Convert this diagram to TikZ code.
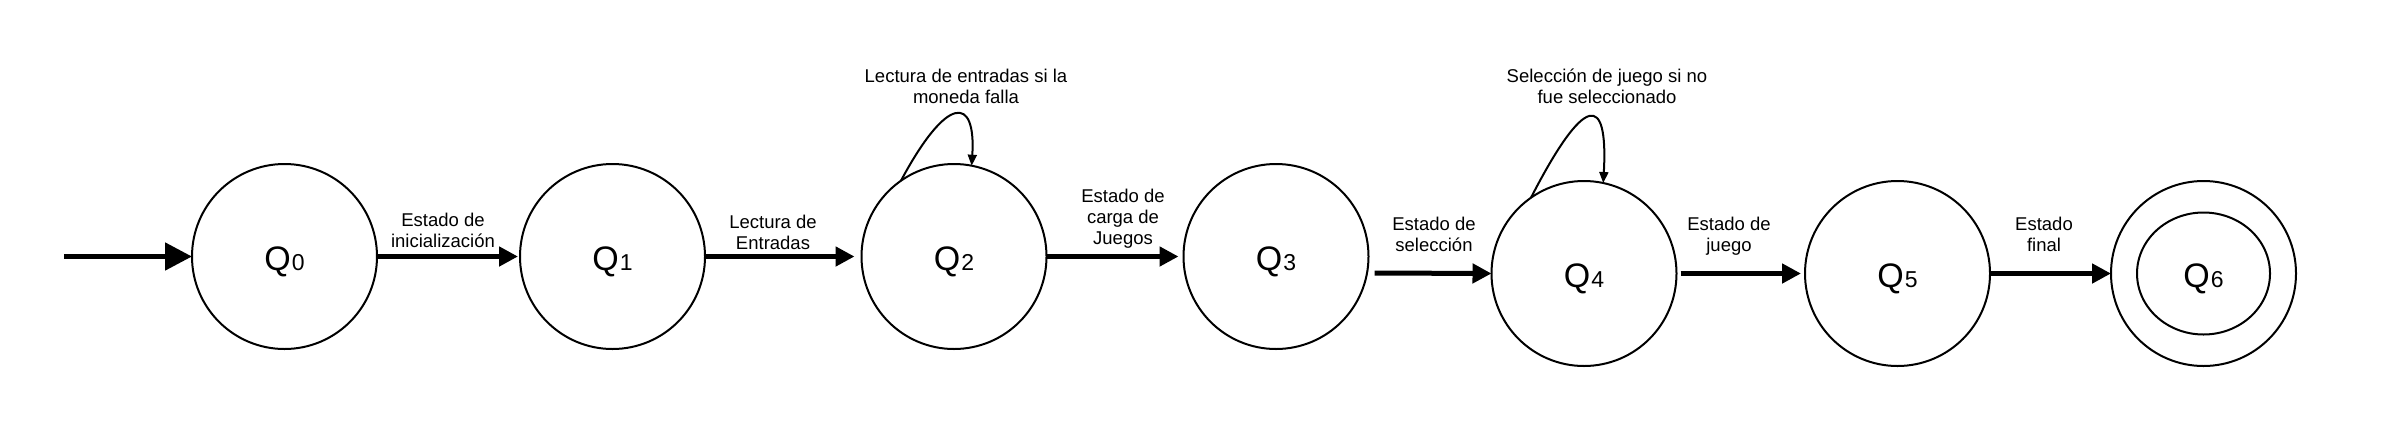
\documentclass[tikz,border=0pt]{standalone}
\usepackage{fontspec}
\setmainfont{Liberation Sans}
\usetikzlibrary{arrows.meta,shapes.geometric}
\newcommand\qlab[1]{{\fontsize{34}{36}\selectfont Q}\kern1pt{\fontsize{23}{24}\selectfont #1}}
\begin{document}
\begin{tikzpicture}[x=1pt,y=-1pt,
  state/.style={circle,draw,line width=2pt,minimum size=185pt,inner sep=0pt,outer sep=0pt,
    text height=29.5pt,text depth=1.5pt},
  lab/.style={align=center,font=\fontsize{18.5}{21}\selectfont,inner sep=0pt},
  trans/.style={line width=5pt,-{Triangle[length=19pt,width=19pt]}},
  starttrans/.style={line width=5pt,-{Triangle[length=27pt,width=27pt]}},
  looptrans/.style={line width=2pt,-{Triangle[length=11pt,width=9pt]}}]
\useasboundingbox (0,0) rectangle (2390,426);
% states
\node[state] (q0) at (284.5,256.5) {\qlab{0}};
\node[state] (q1) at (612.5,256.5) {\qlab{1}};
\node[state] (q2) at (954,256.5) {\qlab{2}};
\node[state] (q3) at (1276,256.5) {\qlab{3}};
\node[state] (q4) at (1584,273.5) {\qlab{4}};
\node[state] (q5) at (1897.5,273.5) {\qlab{5}};
\node[state] (q6) at (2203.5,273.5) {\qlab{6}};
\node[ellipse,draw,line width=2pt,minimum width=133pt,minimum height=122pt,inner sep=0pt,outer sep=0pt] (q6in) at (q6.center) {};
% start
\coordinate (start) at (64,256.5);
\draw[starttrans] (start) -- (q0.west);
% transitions
\draw[trans] (q0.east) -- ([xshift=-2pt]q1.west);
\draw[trans] (q1.east) -- ([xshift=-7pt]q2.west);
\draw[trans] (q2.east) -- ([xshift=-5pt]q3.west);
\draw[trans] ([shift={(6,16.5)}]q3.east) -- (q4.west);
\draw[trans] ([xshift=4pt]q4.east) -- ([xshift=-4pt]q5.west);
\draw[trans] (q5.east) -- (q6.west);
% loops
\draw[looptrans] (q2.125) .. controls +(46,-86) and +(4.4,-70.7) .. (q2.79);
\draw[looptrans] (q4.125) .. controls +(54,-105) and +(5,-90) .. (q4.78);
% labels
\node[lab] (l01) at (443,230.5) {Estado de\\inicialización};
\node[lab] (l12) at (773,232) {Lectura de\\Entradas};
\node[lab] (l23) at (1123,219) {Estado de\\carga de\\Juegos};
\node[lab] (l34) at (1434,234.5) {Estado de\\selección};
\node[lab] (l45) at (1729,236.5) {Estado de\\juego};
\node[lab] (l56) at (2044,234.5) {Estado\\final};
\node[lab] (l22) at (966,86.5) {Lectura de entradas si la\\moneda falla};
\node[lab] (l44) at (1607,86.5) {Selección de juego si no\\fue seleccionado};
\end{tikzpicture}
\end{document}
